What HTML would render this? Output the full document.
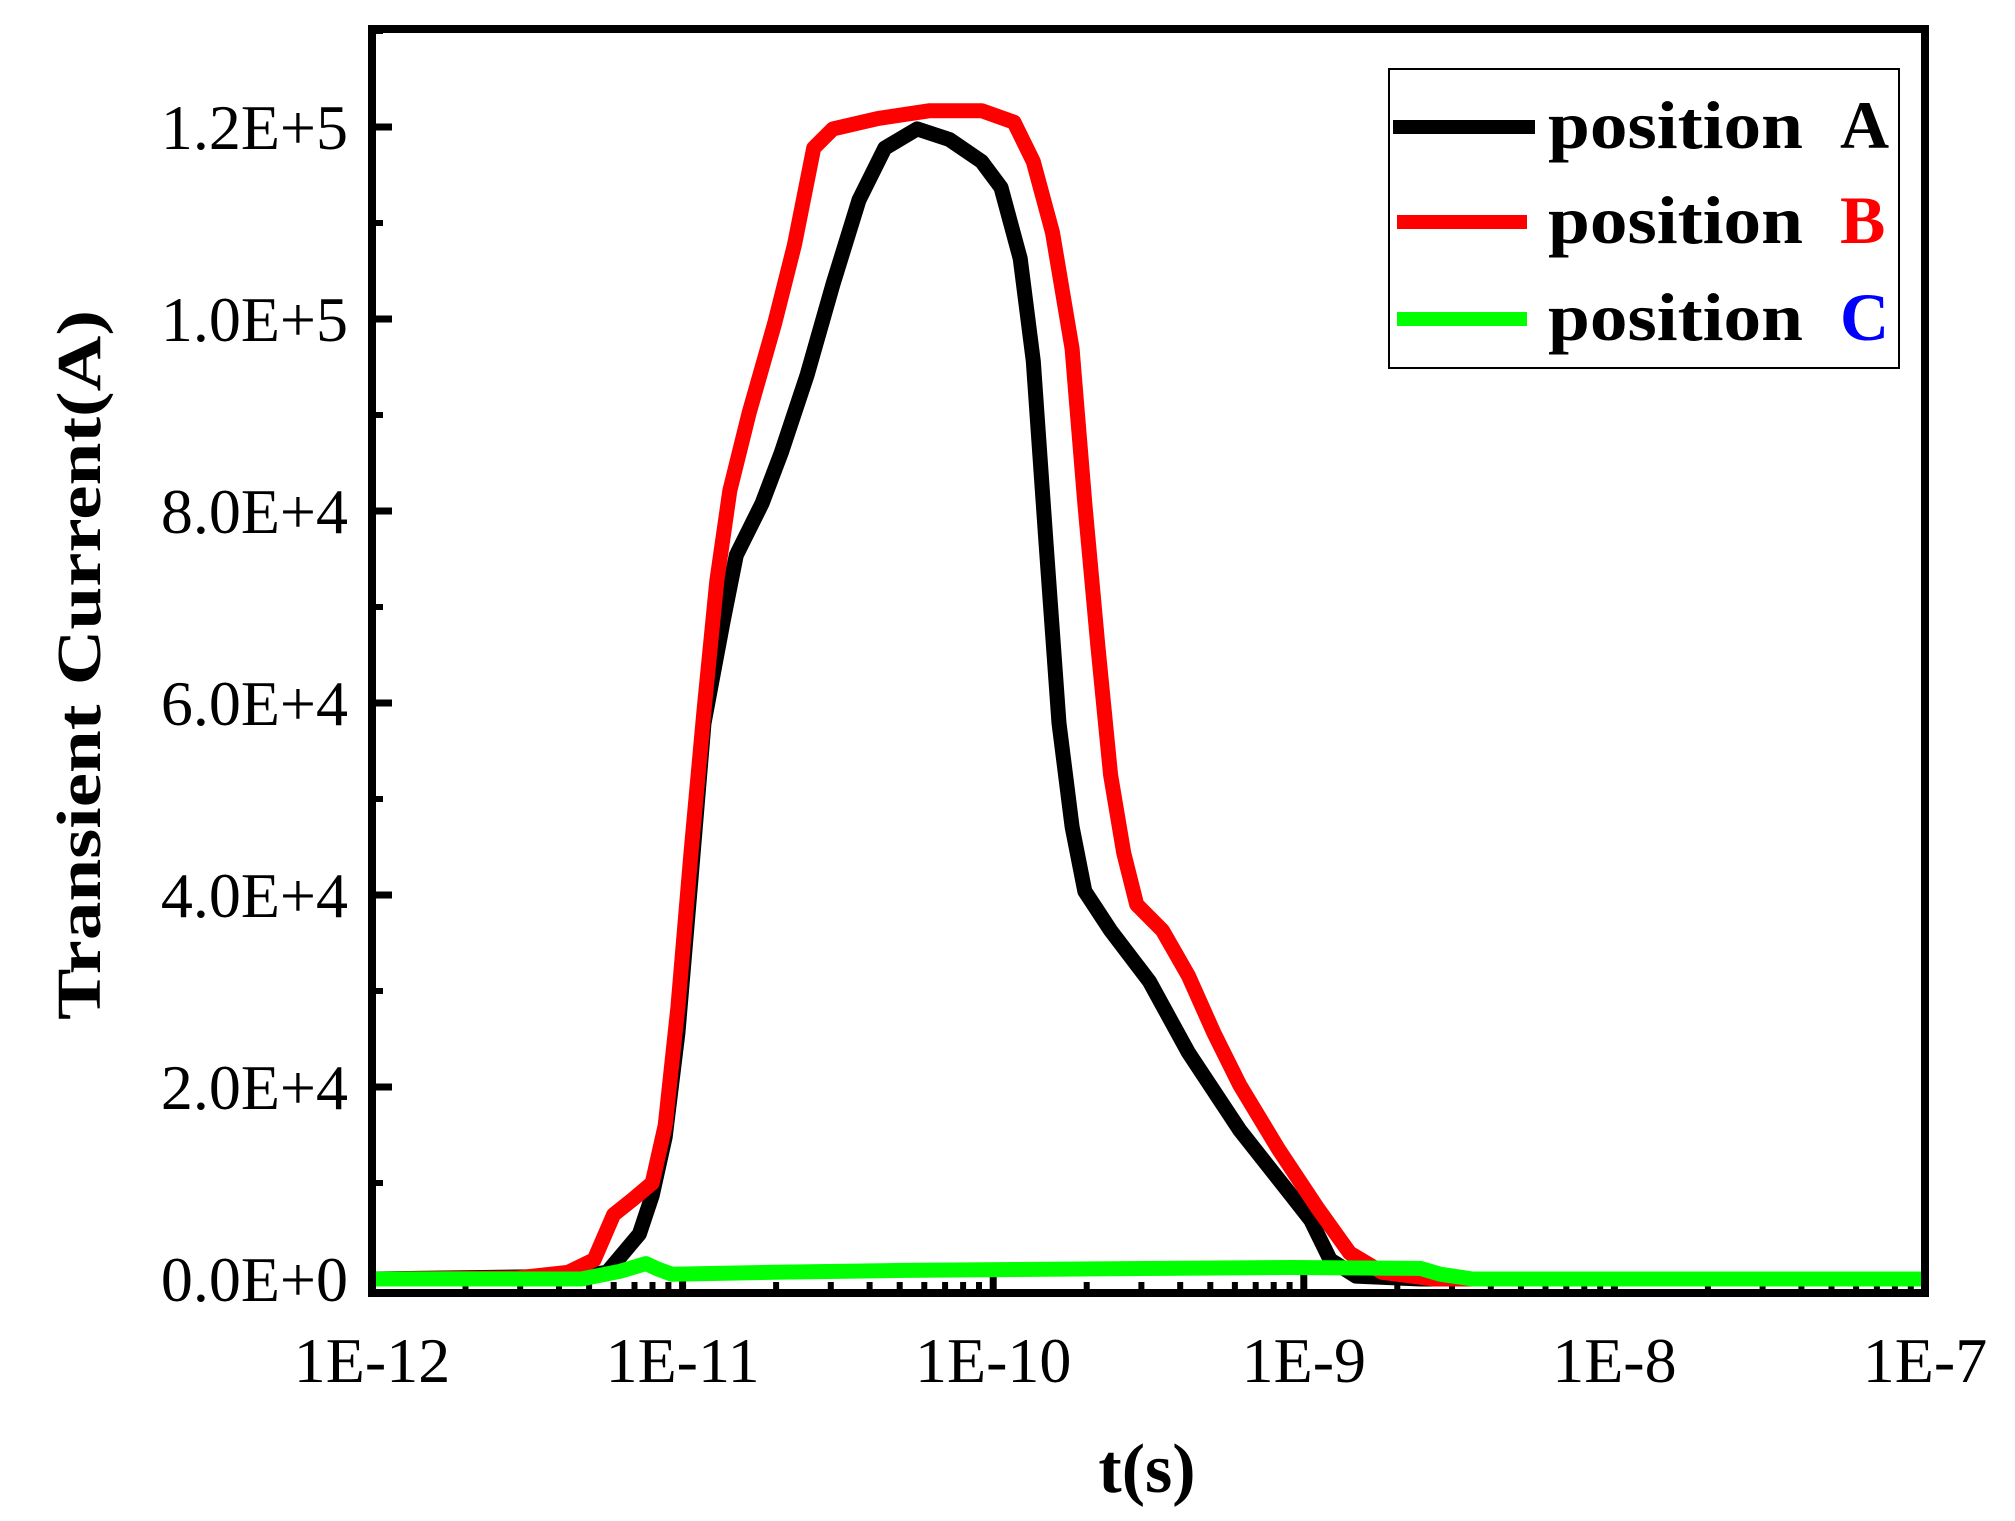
<!DOCTYPE html>
<html><head><meta charset="utf-8"><style>
html,body{margin:0;padding:0;background:#fff;}
svg{display:block;}
</style></head><body>
<svg id="chart" width="2015" height="1521" viewBox="0 0 2015 1521" xmlns="http://www.w3.org/2000/svg">
<rect x="0" y="0" width="2015" height="1521" fill="#fff"/>
<g id="ticks"></g>
<g id="series"></g>
<rect x="372" y="29" width="1553" height="1264" fill="none" stroke="#000" stroke-width="8"/>
<g id="labels" font-family="'Liberation Serif', serif" font-size="64" fill="#000"></g>
<text x="0" y="0" transform="translate(100,665) rotate(-90)" text-anchor="middle" font-family="'Liberation Serif', serif" font-weight="bold" font-size="62" textLength="710" lengthAdjust="spacingAndGlyphs">Transient Current(A)</text>
<text x="1147" y="1492" text-anchor="middle" font-family="'Liberation Serif', serif" font-weight="bold" font-size="70">t(s)</text>
<g font-family="'Liberation Serif', serif" font-weight="bold" font-size="68">
<rect x="1389" y="69" width="510" height="299" fill="#fff" stroke="#000" stroke-width="2"/>
<g>
<line x1="1393" y1="127" x2="1535" y2="127" stroke="#000" stroke-width="14"/>
<text x="1548" y="148" textLength="255" lengthAdjust="spacingAndGlyphs">position</text><text x="1840" y="148" fill="#000">A</text></g>
<g>
<line x1="1397" y1="222" x2="1527" y2="222" stroke="#f00" stroke-width="14"/>
<text x="1548" y="243" textLength="255" lengthAdjust="spacingAndGlyphs">position</text><text x="1840" y="243" fill="#f00">B</text></g>
<g>
<line x1="1397" y1="319" x2="1527" y2="319" stroke="#0f0" stroke-width="14"/>
<text x="1548" y="340" textLength="255" lengthAdjust="spacingAndGlyphs">position</text><text x="1840" y="340" fill="#00f">C</text></g>
</g>
</svg>
<script>
const xTickExps = [-12, -11, -10, -9, -8, -7];
const xTickLabels = ["1E-12", "1E-11", "1E-10", "1E-9", "1E-8", "1E-7"];
const yTickValues = [0, 20000, 40000, 60000, 80000, 100000, 120000];
const yTickLabels = ["0.0E+0", "2.0E+4", "4.0E+4", "6.0E+4", "8.0E+4", "1.0E+5", "1.2E+5"];
// series: log10(t) and current in units of 1e4 A
const aLogT = [-12, -11.326, -11.243, -11.139, -11.098, -11.056, -11.015, -10.973, -10.931, -10.869, -10.827, -10.744, -10.682, -10.599, -10.516, -10.432, -10.349, -10.245, -10.141, -10.037, -9.975, -9.913, -9.871, -9.830, -9.788, -9.746, -9.705, -9.622, -9.497, -9.372, -9.206, -9.040, -8.977, -8.915, -8.832, -8.624, -7.002];
const aVal = [0, 0.03, 0.07, 0.47, 0.87, 1.48, 2.56, 4.17, 5.79, 6.86, 7.54, 8.08, 8.61, 9.42, 10.36, 11.24, 11.78, 11.98, 11.87, 11.64, 11.37, 10.63, 9.56, 7.67, 5.79, 4.71, 4.04, 3.63, 3.10, 2.36, 1.55, 0.87, 0.61, 0.2, 0.03, 0, 0];
const bLogT = [-12, -11.534, -11.368, -11.285, -11.222, -11.160, -11.098, -11.056, -11.015, -10.973, -10.931, -10.890, -10.848, -10.786, -10.703, -10.640, -10.578, -10.516, -10.370, -10.204, -10.037, -9.933, -9.871, -9.809, -9.746, -9.705, -9.663, -9.622, -9.580, -9.538, -9.455, -9.372, -9.289, -9.206, -9.081, -8.956, -8.852, -8.748, -8.582, -7.002];
const bVal = [0, 0.01, 0.07, 0.2, 0.67, 0.83, 1.0, 1.6, 2.83, 4.44, 5.92, 7.27, 8.21, 9.02, 9.96, 10.77, 11.78, 11.98, 12.09, 12.17, 12.17, 12.05, 11.64, 10.90, 9.69, 8.08, 6.59, 5.25, 4.44, 3.90, 3.63, 3.16, 2.56, 2.02, 1.35, 0.74, 0.27, 0.07, 0, 0];
const cLogT = [-12, -11.326, -11.202, -11.118, -11.077, -11.035, -10.703, -10.287, -9.455, -9.040, -8.624, -8.561, -8.457, -7.002];
const cVal = [0, 0, 0.08, 0.16, 0.1, 0.05, 0.07, 0.09, 0.11, 0.12, 0.11, 0.05, 0, 0];

const NS = "http://www.w3.org/2000/svg";
function xScale(lg) { return 372 + (lg + 12) * 310.6; }
function yScale(v) { return 1279 - v / 20000 * 192; }

const ticks = document.getElementById('ticks');
const labels = document.getElementById('labels');
const series = document.getElementById('series');

function tickLine(x1, y1, x2, y2, w) {
  const l = document.createElementNS(NS, 'line');
  l.setAttribute('x1', x1); l.setAttribute('y1', y1);
  l.setAttribute('x2', x2); l.setAttribute('y2', y2);
  l.setAttribute('stroke', '#000'); l.setAttribute('stroke-width', w);
  ticks.appendChild(l);
  return l;
}

xTickExps.forEach((e, i) => {
  const x = xScale(e);
  const t = tickLine(x, 1293, x, 1273, 7);
  
  
  if (i < xTickExps.length - 1) {
    for (let m = 2; m <= 9; m++) {
      const xm = xScale(e + Math.log10(m));
      const tm = tickLine(xm, 1293, xm, 1282, 6);
      
      
    }
  }
  const tx = document.createElementNS(NS, 'text');
  tx.setAttribute('x', x); tx.setAttribute('y', 1382);
  tx.setAttribute('text-anchor', 'middle');
  tx.textContent = xTickLabels[i];
  
  
  labels.appendChild(tx);
});

yTickValues.forEach((v, i) => {
  const y = yScale(v);
  const t = tickLine(372, y, 392, y, 7);
  
  
  const ym = yScale(v + 10000);
  if (ym > 29) {
    const tm = tickLine(372, ym, 383, ym, 6);
    
    
  }
  const tx = document.createElementNS(NS, 'text');
  tx.setAttribute('x', 348); tx.setAttribute('y', y + 22);
  tx.setAttribute('text-anchor', 'end');
  tx.textContent = yTickLabels[i];
  
  
  labels.appendChild(tx);
});

function drawSeries(lx, vals, color, name) {
  const p = document.createElementNS(NS, 'path');
  let d = '';
  lx.forEach((lg, i) => {
    d += (i ? 'L' : 'M') + xScale(lg).toFixed(1) + ',' + yScale(vals[i] * 10000).toFixed(1);
  });
  p.setAttribute('d', d);
  p.setAttribute('fill', 'none');
  p.setAttribute('stroke', color);
  p.setAttribute('stroke-width', 15);
  p.setAttribute('stroke-linejoin', 'round');
  
  
  series.appendChild(p);
}
drawSeries(aLogT, aVal, '#000', 'series-position-a');
drawSeries(bLogT, bVal, '#f00', 'series-position-b');
drawSeries(cLogT, cVal, '#0f0', 'series-position-c');
</script>
</body></html>
